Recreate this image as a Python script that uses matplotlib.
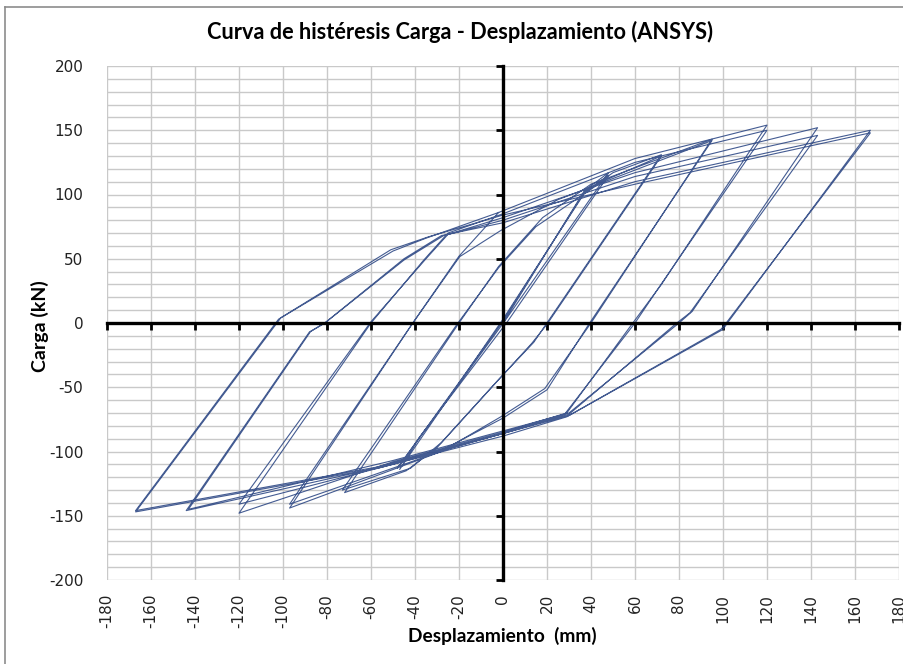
import matplotlib
matplotlib.use('Agg')
import matplotlib.pyplot as plt
from matplotlib.lines import Line2D
from matplotlib.ticker import MultipleLocator

# ---- data (displacement mm, load kN), in loading order ----
x_c48 = [0, 37, 48, 1, -37, -48, -1, 37, 48, 2, -38, -47]
y_c48 = [0, 103, 117, 2, -87, -113, -1, 102, 115, 1, -89, -114]

x_c72 = [0, 37, 50, 72, 20, 14, -2, -28, -42, -73, -20.5, -2, 15, 45, 72, 20, 13, -3, -30, -44, -72]
y_c72 = [3, 101, 117, 131, 0, -15, -44, -93, -113, -130, 0, 43, 75, 110, 130, -1, -16, -46, -97, -115, -132]

x_c95 = [-20, -2, 18, 40, 95, 40, 19, -1, -28, -97, -41, -19.7, -1, 25, 95, 39, 20, 0, -30, -97]
y_c95 = [0, 44, 82, 108, 143, 0, -51, -73, -100, -144, 0, 51.6, 72, 96, 142, -1, -52, -74, -101, -141]

x_c120 = [-41, -20, -2, 60, 120, 72, 59, 29, 0, -50, -120, -60, -36, -25, 0, 60, 120, 71, 60, 28, 0, -50, -120]
y_c120 = [0, 52, 86, 128, 154, 30, 0, -70, -85, -108, -148, 0, 49, 70, 85, 125, 150, 28, 0, -71, -86, -110, -141]

x_c143 = [-60, -35, -25, 0, 60, 143, 86, 80, 30, 0, -50, -143, -87.5, -81, -45, -27, 0, 60, 143, 85, 79, 30, 0, -55, -144]
y_c143 = [1, 50, 69, 82, 117, 152, 9, 0, -70, -84, -107, -145, -6.7, 0, 49, 68, 80, 114, 146, 8, 0, -71, -86, -112, -146]

x_c167 = [-88, -81, -45, -28, 0, 60, 167, 102, 100, 30, 0, -57, -167, -102, -51, -34, 0, 60, 167, 101, 99, 29, 0, -57, -167,
          -101, -50, -35, -2]
y_c167 = [-7, 0, 50, 68, 78, 110, 150, 0, -5, -72, -86, -112, -146, 3, 57, 67, 84, 108, 148, -1, -5, -73, -88, -113, -147,
          4, 56, 66, 86]

x_ticks = list(range(-180, 181, 20))
y_ticks = list(range(-200, 201, 50))

TITLE = 'Curva de histéresis Carga - Desplazamiento (ANSYS)'
XLABEL = 'Desplazamiento  (mm)'
YLABEL = 'Carga (kN)'

W, H = 904, 664
fig = plt.figure(figsize=(W / 100, H / 100), dpi=100)
# chart-area border (only left and top edges fall inside the picture)
fig.add_artist(Line2D([5.5 / W, 5.5 / W], [0, 1 - 7 / H], transform=fig.transFigure, color='#8C8C8C', lw=1.2))
fig.add_artist(Line2D([5.5 / W, 1], [1 - 7 / H, 1 - 7 / H], transform=fig.transFigure, color='#8C8C8C', lw=1.2))

ax = fig.add_axes([107 / W, (H - 580) / H, (899 - 107) / W, (580 - 66) / H])
xs = x_c48 + x_c72 + x_c95 + x_c120 + x_c143 + x_c167
ys = y_c48 + y_c72 + y_c95 + y_c120 + y_c143 + y_c167
ax.plot(xs, ys, color='#2A4583', lw=0.8, alpha=0.88, zorder=3)

ax.set_xlim(-180, 180)
ax.set_ylim(-200, 200)
ax.xaxis.set_major_locator(MultipleLocator(20))
ax.yaxis.set_major_locator(MultipleLocator(50))
ax.yaxis.set_minor_locator(MultipleLocator(10))
ax.grid(which='major', axis='x', color='#C9C9C9', lw=1)
ax.grid(which='both', axis='y', color='#C9C9C9', lw=1)
ax.set_axisbelow(True)
for gl in ax.get_xgridlines() + ax.get_ygridlines():
    gl.set_clip_on(False)
for s in ['top', 'right']:
    ax.spines[s].set_visible(False)
for s in ['bottom', 'left']:
    ax.spines[s].set_position(('data', 0))
    ax.spines[s].set_linewidth(2.4)
    ax.spines[s].set_color('black')
    ax.spines[s].set_zorder(4)
ax.tick_params(axis='x', which='major', direction='out', length=5, width=2, color='black', labelbottom=False)
ax.tick_params(axis='y', which='major', direction='out', length=5, width=2, color='black', labelleft=False)
ax.tick_params(axis='y', which='minor', length=0)

secx = ax.secondary_xaxis('bottom')
secx.set_xticks(x_ticks)
secx.set_xticklabels([str(v) for v in x_ticks])
secx.tick_params(length=0, pad=10, labelrotation=90, labelsize=11, labelcolor='#222222')
secx.spines['bottom'].set_visible(False)

secy = ax.secondary_yaxis('left')
secy.set_yticks(y_ticks)
secy.set_yticklabels([str(v) for v in y_ticks])
secy.tick_params(length=0, pad=17, labelsize=11, labelcolor='#222222')
secy.spines['left'].set_visible(False)

fig.text(460 / W, 1 - 32 / H, TITLE, ha='center', va='center', fontsize=15.7, fontweight='bold',
         family='Lato', color='black')
fig.text(502 / W, 1 - 636 / H, XLABEL, ha='center', va='center', fontsize=13.8, fontweight='bold',
         family='Lato', color='black')
fig.text(40 / W, 1 - 326 / H, YLABEL, ha='center', va='center', rotation=90, fontsize=14,
         fontweight='bold', family='Lato', color='black')

fig.savefig('out.png', dpi=100)
